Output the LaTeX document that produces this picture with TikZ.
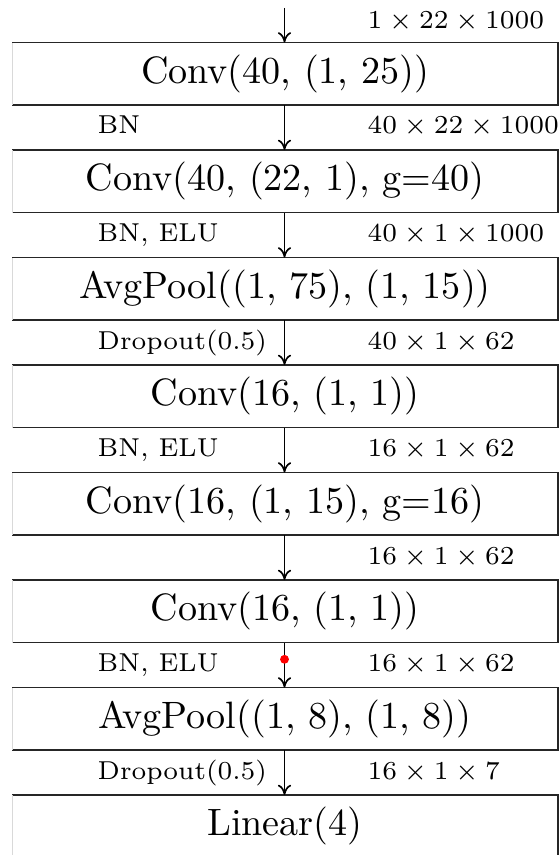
\documentclass[tikz,border=0pt]{standalone}
\usetikzlibrary{arrows.meta}
\begin{document}
\begin{tikzpicture}[x=0.27027pt,y=-0.27027pt,
  layerbox/.style={minimum width=147.03pt, minimum height=16.49pt, inner sep=0pt, font=\fontsize{10.3}{12}\selectfont},
  leftlab/.style={anchor=base west, inner sep=0pt, font=\fontsize{7}{8}\selectfont},
  rightlab/.style={anchor=base west, inner sep=0pt, font=\fontsize{7}{8}\selectfont},
  flow/.style={line width=0.45pt, -{To[length=2.8pt,width=3.6pt]}},
  edge/.style={line width=0.5pt, draw=black!85},
  faint/.style={line width=0.4pt, draw=black!15}]
\clip (0,0) rectangle (560,855);
\useasboundingbox (0,0) rectangle (560,855);
\coordinate (in) at (284.5,8);
\node[layerbox] (b1) at (285,73.8) {Conv(40, (1, 25))};
\node[layerbox] (b2) at (285,181.3) {Conv(40, (22, 1), g=40)};
\node[layerbox] (b3) at (285,288.8) {AvgPool((1, 75), (1, 15))};
\node[layerbox] (b4) at (285,396.3) {Conv(16, (1, 1))};
\node[layerbox] (b5) at (285,503.8) {Conv(16, (1, 15), g=16)};
\node[layerbox] (b6) at (285,611.3) {Conv(16, (1, 1))};
\node[layerbox] (b7) at (285,718.8) {AvgPool((1, 8), (1, 8))};
\node[layerbox] (b8) at (285,826.3) {Linear(4)};
\foreach \b in {b1,b2,b3,b4,b5,b6,b7,b8}{
  \draw[edge] (\b.north west) -- (\b.north east) -- (\b.south east) -- (\b.south west);
  \draw[faint] (\b.south west) -- (\b.north west);
}
\draw[flow] (in) -- (in |- b1.north);
\foreach \a/\b in {b1/b2,b2/b3,b3/b4,b4/b5,b5/b6,b6/b7,b7/b8}{
  \draw[flow] (\a.south -| in) -- (\b.north -| in);
}
\node[rightlab] (r0) at (367,29) {$1\times 22\times 1000$};
\node[leftlab] (l1) at (97,134) {BN};
\node[rightlab] (r1) at (367,134) {$40\times 22\times 1000$};
\node[leftlab] (l2) at (97,241.5) {BN, ELU};
\node[rightlab] (r2) at (367,241.5) {$40\times 1\times 1000$};
\node[leftlab] (l3) at (97,349) {Dropout(0.5)};
\node[rightlab] (r3) at (367,349) {$40\times 1\times 62$};
\node[leftlab] (l4) at (97,456.5) {BN, ELU};
\node[rightlab] (r4) at (367,456.5) {$16\times 1\times 62$};
\node[rightlab] (r5) at (367,564) {$16\times 1\times 62$};
\node[leftlab] (l6) at (97,671.5) {BN, ELU};
\node[rightlab] (r6) at (367,671.5) {$16\times 1\times 62$};
\node[leftlab] (l7) at (97,779) {Dropout(0.5)};
\node[rightlab] (r7) at (367,779) {$16\times 1\times 7$};
\coordinate (dot) at (284.5,659.3);
\fill[red] (dot) circle[radius=1.2pt];
\end{tikzpicture}
\end{document}
